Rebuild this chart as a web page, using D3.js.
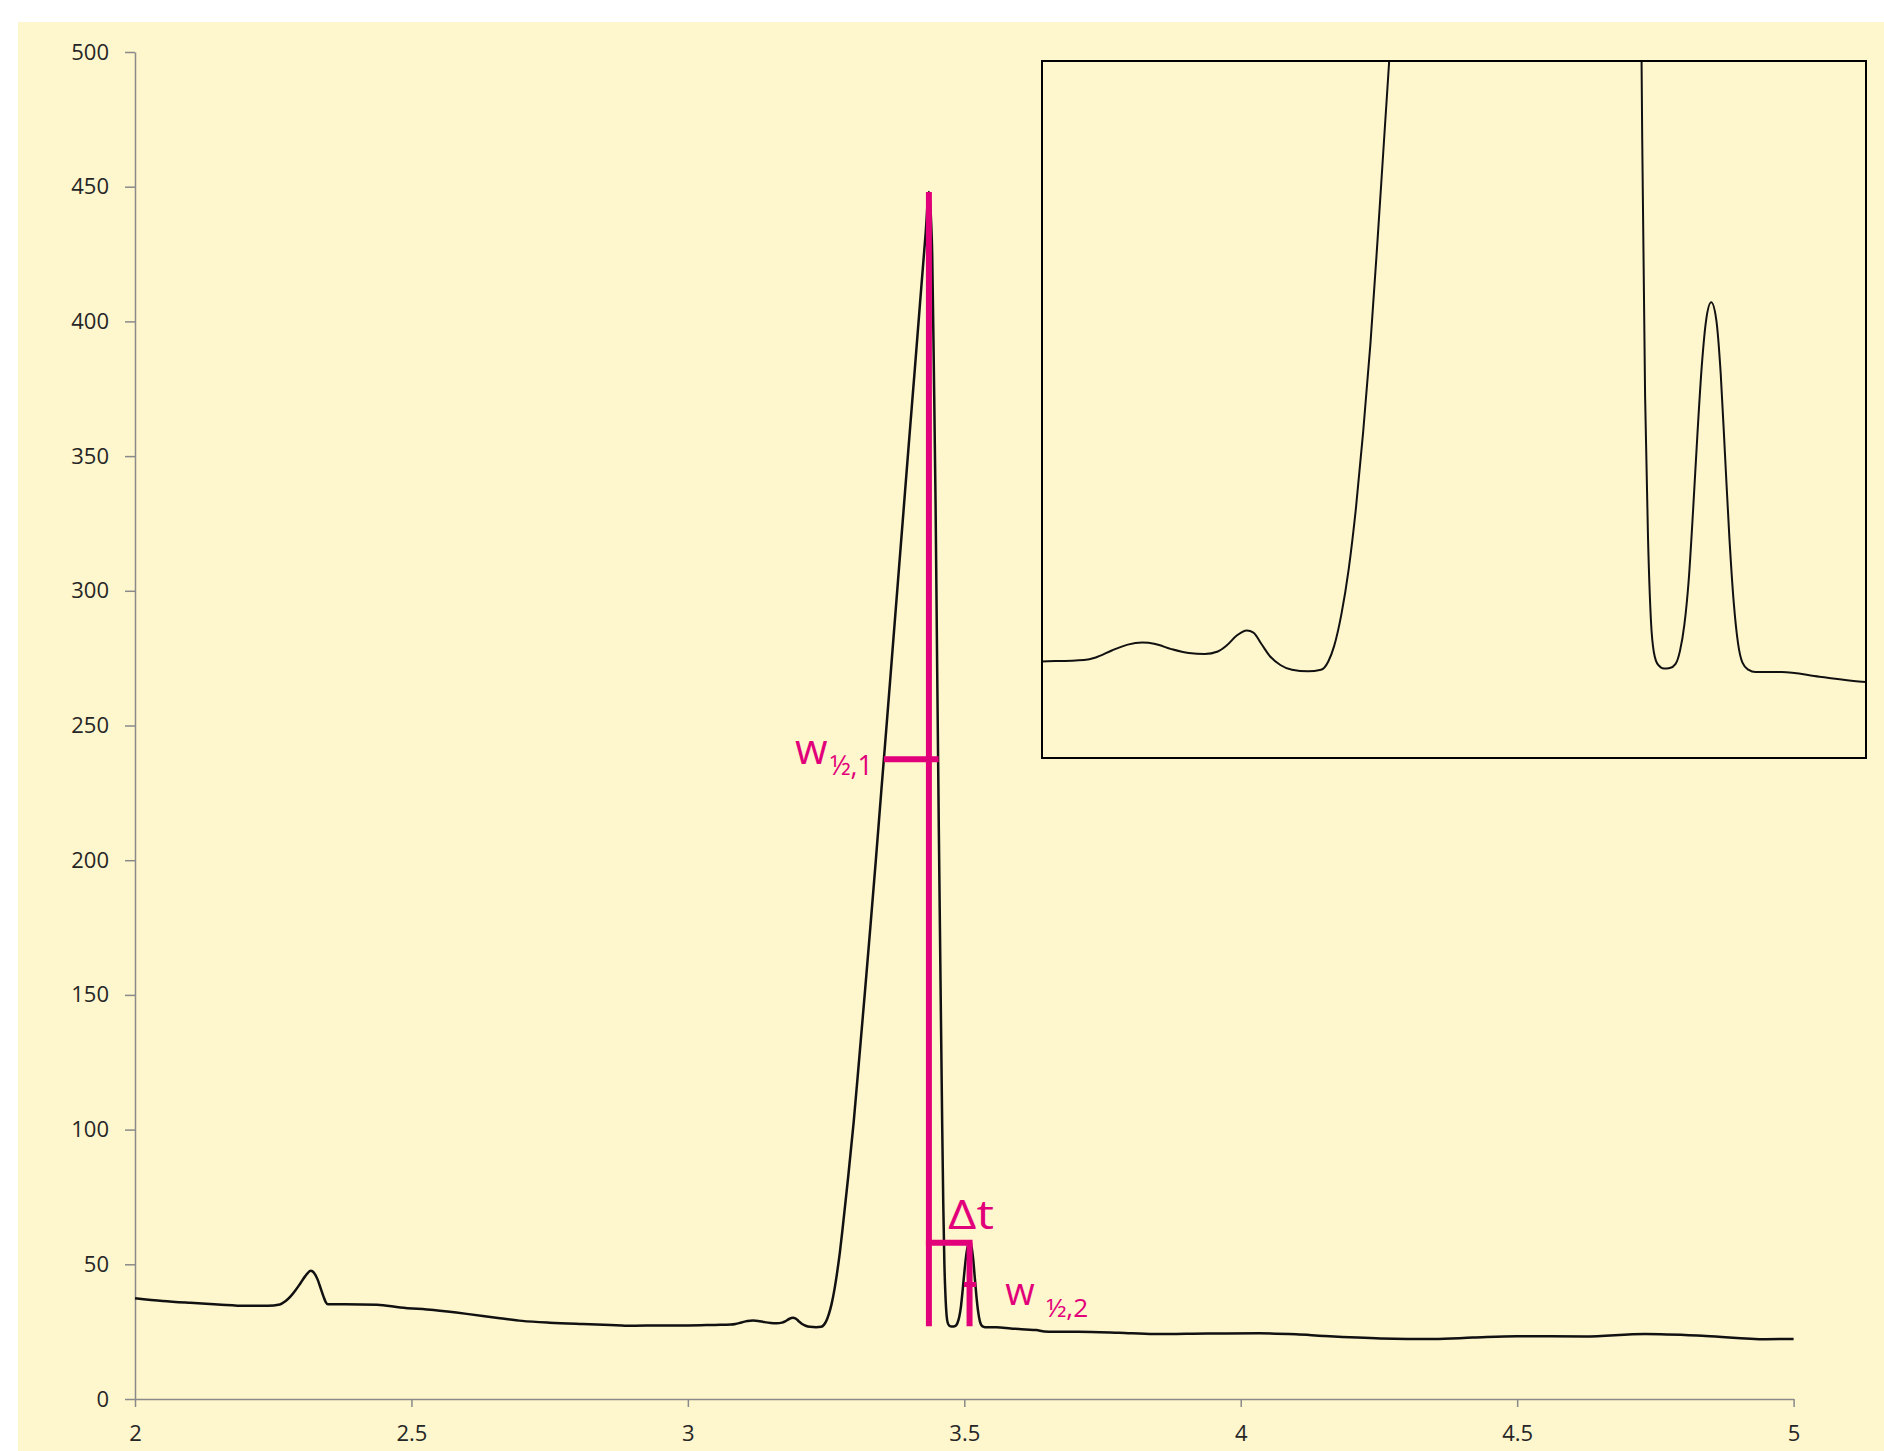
<!DOCTYPE html>
<html>
<head>
<meta charset="utf-8">
<script src="https://cdn.jsdelivr.net/npm/d3@7"></script>
<style>
  body { margin: 0; background: #ffffff; }
  .tick text { font-family: "Open Sans", sans-serif; font-size: 22px; fill: #262626; }
  .axis path, .axis line { stroke: #8a8a8a; stroke-width: 1.5; }
  .note { font-family: "Open Sans", sans-serif; fill: #e2007a; }
</style>
</head>
<body>
<div id="chart"></div>
<script>
// 1: DATA
const time = [
  2.00, 2.05, 2.10, 2.15, 2.20, 2.24, 2.262, 2.272, 2.281, 2.29, 2.299, 2.308, 2.318, 2.324, 2.33,
  2.336, 2.341, 2.345, 2.349, 2.38, 2.438, 2.48, 2.54, 2.60, 2.66, 2.70, 2.75, 2.81, 2.87, 2.90,
  2.95, 3.00, 3.049, 3.078, 3.086, 3.097, 3.108, 3.118, 3.127, 3.138, 3.15, 3.161, 3.17, 3.176, 3.183,
  3.19, 3.1945, 3.2, 3.206, 3.213, 3.221, 3.232, 3.241, 3.246, 3.25, 3.255, 3.26, 3.265, 3.27, 3.275,
  3.28, 3.285, 3.29, 3.30, 3.31, 3.32, 3.33, 3.34, 3.35, 3.36, 3.37, 3.38, 3.39, 3.40, 3.41,
  3.42, 3.43, 3.436, 3.439, 3.442, 3.445, 3.448, 3.451, 3.454, 3.457, 3.460, 3.462, 3.464, 3.466, 3.468,
  3.470, 3.473, 3.477, 3.481, 3.485, 3.488, 3.491, 3.494, 3.497, 3.500, 3.503, 3.506, 3.5095, 3.513, 3.516,
  3.519, 3.522, 3.525, 3.528, 3.531, 3.535, 3.54, 3.558, 3.584, 3.611, 3.63, 3.645, 3.66, 3.706, 3.78,
  3.843, 3.94, 4.034, 4.10, 4.15, 4.253, 4.349, 4.42, 4.499, 4.622, 4.731, 4.841, 4.95, 5.00
];
const signal = [
  37.4, 36.4, 35.7, 35.1, 34.6, 34.6, 35.1, 36.3, 38.0, 40.3, 42.9, 45.6, 47.6, 46.8, 44.5,
  41.0, 38.0, 36.0, 35.2, 35.2, 35.0, 34.0, 33.0, 31.6, 30.0, 29.0, 28.3, 27.8, 27.4, 27.2,
  27.3, 27.3, 27.5, 27.63, 27.84, 28.43, 28.93, 29.1, 28.98, 28.55, 28.22, 28.14, 28.35, 28.85, 29.7,
  30.12, 29.95, 28.98, 27.92, 27.2, 26.79, 26.66, 26.79, 27.5, 28.8, 31.5, 35.3, 40.5, 47, 54.5,
  63.5, 73, 82.5, 103, 126.5, 150.5, 175, 200, 226, 251.5, 277.5, 303.5, 329.5, 355.5, 381,
  407, 432.5, 448, 441, 424, 381, 333, 270, 210, 155, 102, 72, 50, 38, 31,
  28.3, 27.2, 26.9, 26.95, 27.3, 28.4, 30.6, 34.4, 40.3, 46.8, 52.6, 56.5, 58, 56.5, 52,
  45, 38, 32.5, 29, 27.4, 26.8, 26.6, 26.6, 26.2, 25.8, 25.6, 25.1, 25.0, 25.0, 24.6,
  24.1, 24.3, 24.4, 24.0, 23.4, 22.5, 22.3, 22.8, 23.3, 23.2, 24.1, 23.4, 22.2, 22.3
];

const xTicks = [2, 2.5, 3, 3.5, 4, 4.5, 5];
const yTicks = [0, 50, 100, 150, 200, 250, 300, 350, 400, 450, 500];

// annotation values
const peakTime = [3.436, 3.5095];
const peakHeight = [448, 58];
const baseline = 27;
const halfLeft = [3.3546, 3.4995];
const halfRight = [3.4535, 3.5215];

// inset window
const insetTime = [3.049, 3.616];
const insetSignal = [19.3, 78.5];

const data = time.map((t, i) => ({ t: t, v: signal[i] }));

// 2: SVG
const W = 1884, H = 1451;
const margin = { top: 52, right: 90, bottom: 52, left: 135 };
const width = 1658.6;
const height = 1347;

const svg = d3.select("#chart").append("svg")
  .attr("width", W)
  .attr("height", H);

svg.append("rect")
  .attr("x", 18).attr("y", 22)
  .attr("width", W - 18).attr("height", H - 22)
  .attr("fill", "#fef6cd");

const g = svg.append("g")
  .attr("transform", `translate(${margin.left},${margin.top})`);

// 3: SCALES
const xScale = d3.scaleLinear().domain([2, 5]).range([0, width]);
const yScale = d3.scaleLinear().domain([0, 500]).range([height, 0]);

// 4: AXES
g.append("g")
  .attr("class", "axis")
  .attr("transform", `translate(0,${height})`)
  .call(d3.axisBottom(xScale).tickValues(xTicks).tickSize(8).tickSizeOuter(0).tickPadding(18)
    .tickFormat(d3.format("")));

g.append("g")
  .attr("class", "axis")
  .call(d3.axisLeft(yScale).tickValues(yTicks).tickSize(10).tickSizeOuter(0).tickPadding(16));

// 5: MAIN TRACE
const line = d3.line()
  .x(d => xScale(d.t))
  .y(d => yScale(d.v))
  .curve(d3.curveMonotoneX);

g.append("path")
  .datum(data)
  .attr("d", line)
  .attr("fill", "none")
  .attr("stroke", "#111")
  .attr("stroke-width", 2.5)
  .attr("stroke-linejoin", "round");

// 6: ANNOTATIONS
const magenta = "#e2007a";
const seg = (x1, y1, x2, y2, w) => g.append("line")
  .attr("x1", x1).attr("y1", y1).attr("x2", x2).attr("y2", y2)
  .attr("stroke", magenta).attr("stroke-width", w);

// verticals at the two peaks
peakTime.forEach((t, i) => {
  seg(xScale(t), yScale(peakHeight[i]), xScale(t), yScale(baseline), 6);
});
// delta t
seg(xScale(peakTime[0]) - 3, yScale(peakHeight[1]), xScale(peakTime[1]) + 3, yScale(peakHeight[1]), 6);
// half widths
const halfY = peakHeight.map(h => (h + baseline) / 2);
seg(xScale(halfLeft[0]), yScale(halfY[0]), xScale(halfRight[0]), yScale(halfY[0]), 6);
seg(xScale(halfLeft[1]), yScale(halfY[1]), xScale(halfRight[1]), yScale(halfY[1]), 5);

// labels
const l1x = xScale(halfLeft[0]), l1y = yScale(halfY[0]);
g.append("text").attr("class", "note")
  .attr("x", l1x - 89).attr("y", l1y + 5)
  .style("font-size", "42px").text("w");
g.append("text").attr("class", "note")
  .attr("x", l1x - 54).attr("y", l1y + 16)
  .attr("textLength", 43).attr("lengthAdjust", "spacingAndGlyphs")
  .style("font-size", "28px").text("½,1");

g.append("text").attr("class", "note")
  .attr("x", xScale(peakTime[0]) + 19).attr("y", yScale(peakHeight[1]) - 14)
  .attr("textLength", 46).attr("lengthAdjust", "spacingAndGlyphs")
  .style("font-size", "40px").text("Δt");

const l2x = xScale(halfRight[1]), l2y = yScale(halfY[1]);
g.append("text").attr("class", "note")
  .attr("x", l2x + 29).attr("y", l2y + 20)
  .style("font-size", "38px").text("w");
g.append("text").attr("class", "note")
  .attr("x", l2x + 70).attr("y", l2y + 32)
  .attr("textLength", 42).attr("lengthAdjust", "spacingAndGlyphs")
  .style("font-size", "25px").text("½,2");

// 7: INSET (zoom on the two peaks' feet)
const box = { x: 1042, y: 61, w: 824, h: 697 };
const xIn = d3.scaleLinear().domain(insetTime).range([box.x, box.x + box.w]);
const yIn = d3.scaleLinear().domain(insetSignal).range([box.y + box.h, box.y]);

svg.append("clipPath").attr("id", "insetClip")
  .append("rect")
  .attr("x", box.x).attr("y", box.y).attr("width", box.w).attr("height", box.h);

svg.append("rect")
  .attr("x", box.x).attr("y", box.y).attr("width", box.w).attr("height", box.h)
  .attr("fill", "#fef6cd");

svg.append("path")
  .datum(data)
  .attr("clip-path", "url(#insetClip)")
  .attr("d", d3.line().x(d => xIn(d.t)).y(d => yIn(d.v)).curve(d3.curveMonotoneX))
  .attr("fill", "none")
  .attr("stroke", "#111")
  .attr("stroke-width", 2);

svg.append("rect")
  .attr("x", box.x).attr("y", box.y).attr("width", box.w).attr("height", box.h)
  .attr("fill", "none")
  .attr("stroke", "#000")
  .attr("stroke-width", 2);
</script>
</body>
</html>
